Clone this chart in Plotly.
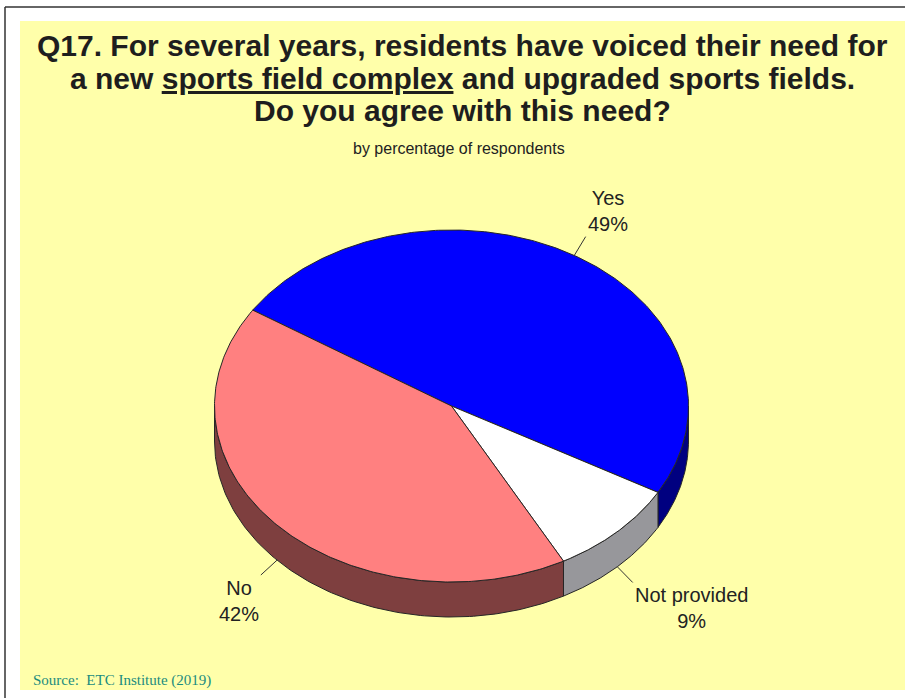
import numpy as np
import plotly.graph_objects as go

# ---- data ----
labels = ["Yes", "Not provided", "No"]
values = [49, 9, 42]
top_colors = ["#0000FF", "#FFFFFF", "#FF8080"]
side_colors = ["#000080", "#97979B", "#7E3F3F"]

title_lines = [
    "Q17. For several years, residents have voiced their need for",
    "a new <u>sports field complex</u> and upgraded sports fields.",
    "Do you agree with this need?",
]
subtitle = "by percentage of respondents"
source = "Source:  ETC Institute (2019)"

# ---- geometry (pixel space) ----
W, H = 905, 698
CX, CY, RX, RY, DEPTH = 451.5, 406, 237, 176, 35
START = 147.0
EDGE = "#262626"
FONT = "Arial, Liberation Sans, sans-serif"


def ell(t_deg, dy=0.0):
    t = np.radians(t_deg)
    return CX + RX * np.cos(t), CY - RY * np.sin(t) + dy


fig = go.Figure()

total = float(sum(values))
spans = []
a = START
for v in values:
    b = a - 360.0 * v / total
    spans.append((a, b))
    a = b

# side walls (front half only: angles between -180 and 0)
for (a0, a1), col in zip(spans, side_colors):
    hi = min(a0, 0.0)
    lo = max(a1, -180.0)
    if hi <= lo:
        continue
    ts = np.linspace(hi, lo, 120)
    xt, yt = ell(ts)
    xb, yb = ell(ts[::-1], DEPTH)
    xs = np.concatenate([xt, xb, xt[:1]])
    ys = np.concatenate([yt, yb, yt[:1]])
    fig.add_trace(go.Scatter(x=xs, y=ys, mode="lines", fill="toself",
                             fillcolor=col, line=dict(color=EDGE, width=1),
                             hoverinfo="skip", showlegend=False))

# top faces
for (a0, a1), col, lab in zip(spans, top_colors, labels):
    ts = np.linspace(a0, a1, 240)
    xa, ya = ell(ts)
    xs = np.concatenate([[CX], xa, [CX]])
    ys = np.concatenate([[CY], ya, [CY]])
    fig.add_trace(go.Scatter(x=xs, y=ys, mode="lines", fill="toself",
                             fillcolor=col, line=dict(color=EDGE, width=1),
                             name=lab, hoverinfo="name", showlegend=False))

# leader lines and labels
annotations = []
for (a0, a1), lab, v in zip(spans, labels, values):
    m = (a0 + a1) / 2.0
    s, c = np.sin(np.radians(m)), np.cos(np.radians(m))
    x0, y0 = ell(m, DEPTH if s < 0 else 0.0)
    x1, y1 = x0 + 22 * c, y0 - 22 * s
    fig.add_trace(go.Scatter(x=[x0, x1], y=[y0, y1], mode="lines",
                             line=dict(color="#333333", width=1),
                             hoverinfo="skip", showlegend=False))
    annotations.append(dict(
        x=x1, y=y1, xref="x", yref="y", showarrow=False,
        text=f"{lab}<br>{v}%", align="center",
        xanchor="left" if c > 0 else "right",
        yanchor="bottom" if s > 0 else "top",
        font=dict(family=FONT, size=20, color="#222222")))

title_y = [45, 78, 110]
for line, yy in zip(title_lines, title_y):
    annotations.append(dict(
        x=462, y=yy, xref="x", yref="y", showarrow=False, text=f"<b>{line}</b>",
        xanchor="center", yanchor="middle",
        font=dict(family=FONT, size=30, color="#1E1E1E")))

annotations.append(dict(x=459, y=148, xref="x", yref="y", showarrow=False,
                        text=subtitle, xanchor="center", yanchor="middle",
                        font=dict(family=FONT, size=16, color="#222222")))
annotations.append(dict(x=31, y=680, xref="x", yref="y", showarrow=False,
                        text=source, xanchor="left", yanchor="middle",
                        font=dict(family="Times New Roman, Liberation Serif, serif",
                                  size=15, color="#1B8C7E")))

shapes = [
    dict(type="rect", xref="x", yref="y", x0=20, y0=21, x1=905, y1=690,
         fillcolor="#FFFFAA", line=dict(width=0), layer="below"),
    dict(type="line", xref="x", yref="y", x0=5, y0=7, x1=905, y1=7,
         line=dict(color="#333333", width=1.5)),
    dict(type="line", xref="x", yref="y", x0=5, y0=7, x1=5, y1=698,
         line=dict(color="#333333", width=1.5)),
]

fig.update_layout(
    width=W, height=H,
    margin=dict(l=0, r=0, t=0, b=0),
    paper_bgcolor="white", plot_bgcolor="white",
    xaxis=dict(range=[0, W], visible=False, fixedrange=True),
    yaxis=dict(range=[H, 0], visible=False, fixedrange=True),
    annotations=annotations, shapes=shapes,
    showlegend=False,
)

fig.write_html(
    "out.html",
    config={"displayModeBar": False},
    post_script="document.body.style.margin='0';document.body.style.overflow='hidden';",
)
